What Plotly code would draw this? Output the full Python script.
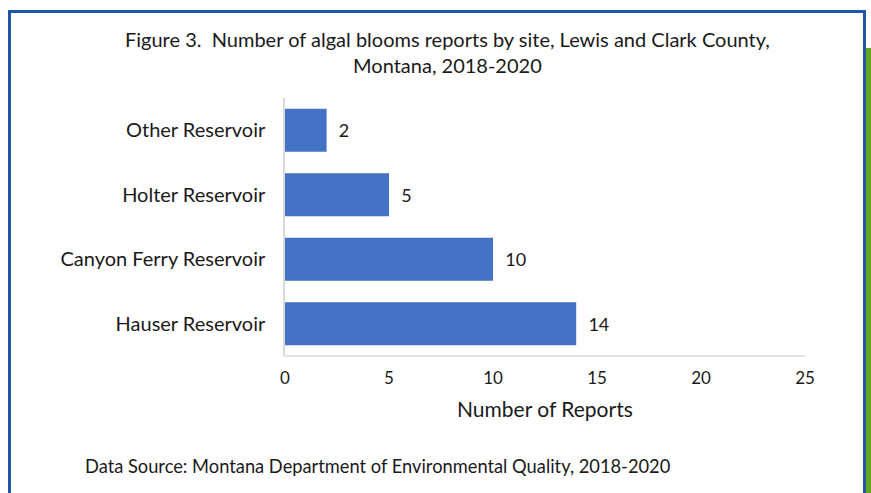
import plotly.graph_objects as go

W, H = 871, 493

sites = ["Hauser Reservoir", "Canyon Ferry Reservoir", "Holter Reservoir", "Other Reservoir"]
reports = [14, 10, 5, 2]
x_ticks = [0, 5, 10, 15, 20, 25]

title_text = "Figure 3.  Number of algal blooms reports by site, Lewis and Clark County,<br>Montana, 2018-2020"
source_text = "Data Source: Montana Department of Environmental Quality, 2018-2020"

FONT = "Lato, 'Open Sans', sans-serif"
TXT = "#1a1a1a"

def px(x):
    return x / W

def py(y):
    return 1 - y / H

fig = go.Figure()
fig.add_trace(go.Bar(
    y=sites, x=reports, orientation="h",
    marker=dict(color="#4472C4", line=dict(width=0)),
    width=0.67,
    text=["\u00a0\u00a0" + str(v) for v in reports], textposition="outside",
    textfont=dict(size=18, color=TXT, family=FONT),
    cliponaxis=False,
))

fig.update_layout(
    width=W, height=H,
    margin=dict(l=0, r=0, t=0, b=0, pad=0, autoexpand=False),
    paper_bgcolor="white", plot_bgcolor="white",
    showlegend=False,
    font=dict(family=FONT, color=TXT),
    xaxis=dict(domain=[px(285), px(805)], range=[0, 25], tickvals=x_ticks, automargin=False,
               showgrid=False, zeroline=False, showline=False,
               tickfont=dict(size=17, color=TXT), ticks="outside", ticklen=7,
               tickcolor="rgba(0,0,0,0)"),
    yaxis=dict(domain=[py(356), py(98)], range=[-0.5, 3.5], automargin=False,
               showgrid=False, zeroline=False, showline=True, linecolor="#d9d9d9", linewidth=1.5,
               tickfont=dict(size=20, color=TXT), ticks="outside", ticklen=14,
               tickcolor="rgba(0,0,0,0)"),
    shapes=[
        dict(type="line", xref="paper", yref="paper", x0=px(285), x1=px(805), y0=py(356), y1=py(356),
             line=dict(color="#d9d9d9", width=1.5)),
        dict(type="rect", xref="paper", yref="paper", x0=px(866), x1=px(872), y0=py(48), y1=py(495),
             fillcolor="#66A61E", line=dict(width=0)),
        dict(type="rect", xref="paper", yref="paper", x0=px(9.5), x1=px(864.5), y0=py(11.5), y1=py(510),
             fillcolor="rgba(0,0,0,0)", line=dict(color="#1F57A6", width=3)),
    ],
    annotations=[
        dict(text=title_text, x=px(447), y=py(52), xref="paper", yref="paper",
             xanchor="center", yanchor="middle",
             showarrow=False, font=dict(size=20, color=TXT, family=FONT), align="center"),
        dict(text="Number of Reports", x=px(545), y=py(408), xref="paper", yref="paper",
             xanchor="center", yanchor="middle",
             showarrow=False, font=dict(size=21, color=TXT, family=FONT)),
        dict(text=source_text, x=px(83), y=py(466), xref="paper", yref="paper",
             xanchor="left", yanchor="middle",
             showarrow=False, font=dict(size=18.3, color=TXT, family=FONT)),
    ],
)

fig.write_html(
    "out.html",
    config={"displayModeBar": False},
    post_script="document.body.style.margin='0';document.body.style.overflow='hidden';",
)
